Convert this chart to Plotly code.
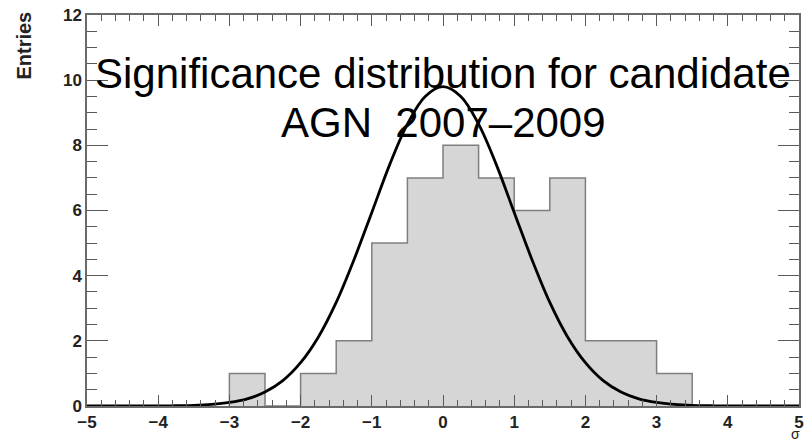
import plotly.graph_objects as go

# Histogram data (bin edges width 0.5)
bin_edges = [-3.0, -2.5, -2.0, -1.5, -1.0, -0.5, 0.0, 0.5, 1.0, 1.5, 2.0, 2.5, 3.0, 3.5]
bin_counts = [1, 0, 1, 2, 5, 7, 8, 7, 6, 7, 2, 2, 1]

# Fitted curve, values
curve_x = [-5.0, -4.5, -4.0, -3.75, -3.5, -3.25, -3.0, -2.75, -2.5, -2.25, -2.0, -1.75, -1.5,
           -1.25, -1.0, -0.75, -0.5, -0.25, 0.0, 0.25, 0.5, 0.75, 1.0, 1.25, 1.5, 1.75,
           2.0, 2.25, 2.5, 2.75, 3.0, 3.25, 3.5, 3.75, 4.0, 4.5, 5.0]
curve_y = [0.0, 0.0, 0.0, 0.01, 0.02, 0.05, 0.11, 0.22, 0.43, 0.78, 1.33, 2.12, 3.18,
           4.49, 5.94, 7.40, 8.65, 9.50, 9.80, 9.50, 8.65, 7.40, 5.94, 4.49, 3.18, 2.12,
           1.33, 0.78, 0.43, 0.22, 0.11, 0.05, 0.02, 0.01, 0.0, 0.0, 0.0]

x_range = [-5, 5]
y_range = [0, 12]

title_line1 = "Significance distribution for candidate"
title_line2 = "AGN\u00a0\u00a02007\u20132009"

# step outline built from the bin data
step_x = [bin_edges[0]] + bin_edges
step_y = [0] + bin_counts + [0]

fig = go.Figure()
fig.add_trace(go.Scatter(
    x=step_x, y=step_y, mode="lines", line=dict(shape="hv", color="#7f7f7f", width=1.5),
    fill="tozeroy", fillcolor="#d6d6d6", hoverinfo="skip", showlegend=False))
fig.add_trace(go.Scatter(
    x=curve_x, y=curve_y, mode="lines", line=dict(shape="spline", color="black", width=2.8),
    showlegend=False))

tick_col = "#5a5a5a"
tickfont = dict(family="Liberation Sans", size=17, color="#222222", weight="bold")
axis_common = dict(showgrid=False, zeroline=False, showline=True, linecolor="#6a6a6a",
                   linewidth=1.5, mirror="ticks", ticks="inside", tickcolor=tick_col,
                   tickwidth=1.4, tickfont=tickfont, tickmode="linear", layer="above traces")

fig.update_xaxes(range=x_range, tick0=-5, dtick=1, ticklen=11,
                 minor=dict(dtick=0.2, ticks="inside", ticklen=6, tickcolor=tick_col,
                            tickwidth=1.4, showgrid=False),
                 **axis_common)
fig.update_yaxes(range=y_range, tick0=0, dtick=2, ticklen=21,
                 minor=dict(dtick=0.5, ticks="inside", ticklen=10, tickcolor=tick_col,
                            tickwidth=1.4, showgrid=False),
                 **axis_common)

titlefont = dict(family="Liberation Sans", size=42, color="black")
fig.add_annotation(text=title_line1, x=0, y=10.2, xref="x", yref="y", showarrow=False,
                   xanchor="center", yanchor="middle", font=titlefont)
fig.add_annotation(text=title_line2, x=0, y=8.7, xref="x", yref="y", showarrow=False,
                   xanchor="center", yanchor="middle", font=titlefont)
fig.add_annotation(text="Entries", x=-0.089, y=11.05, xref="paper", yref="y", showarrow=False,
                   textangle=-90, xanchor="center", yanchor="middle",
                   font=dict(family="Liberation Sans", size=20, color="#222222", weight="bold"))
fig.add_annotation(text="\u03c3", x=0.995, y=-0.095, xref="paper", yref="paper", showarrow=False,
                   xanchor="center", yanchor="bottom", borderpad=0,
                   font=dict(family="Liberation Sans", size=14, color="#222222"))

fig.update_layout(width=807, height=443, margin=dict(l=87, r=3, t=15, b=37),
                  paper_bgcolor="white", plot_bgcolor="white", showlegend=False)

fig.write_html("out.html")
